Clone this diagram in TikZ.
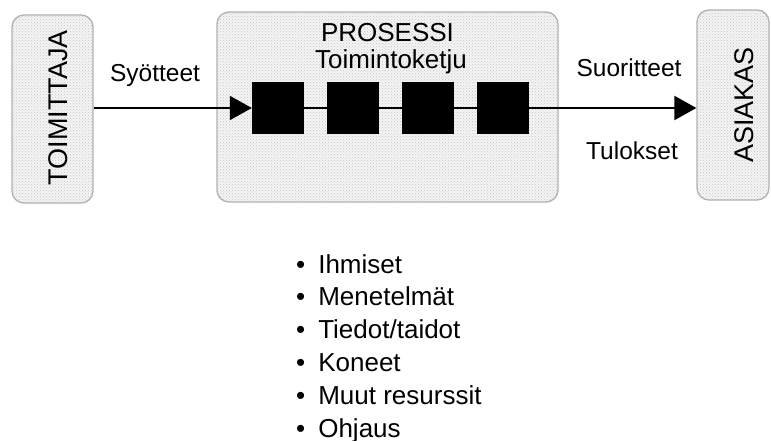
\documentclass[tikz,border=0pt]{standalone}
\usepackage{fontspec}
\setmainfont{Liberation Sans}
\usetikzlibrary{arrows.meta,patterns}
\begin{document}
\begin{tikzpicture}[x=1pt,y=-1pt,
  panel/.style={draw=gray!60, line width=1.3pt, rounded corners=12pt,
    preaction={fill=gray!9}, pattern=crosshatch dots, pattern color=gray!45,
    inner sep=0pt},
  blk/.style={fill=black, draw=none, minimum width=52pt, minimum height=52pt, inner sep=0pt},
  big/.style={font=\fontsize{26}{28}\selectfont, inner sep=0pt},
  side/.style={font=\fontsize{27}{29}\selectfont, inner sep=0pt, rotate=90, anchor=base},
  lbl/.style={font=\fontsize{24.5}{27}\selectfont, inner sep=0pt},
  flow/.style={line width=2pt, -{Triangle[length=22pt,width=24pt]}},
  seg/.style={line width=2pt}]
\useasboundingbox (0,0) rectangle (771,441);
\fill[white] (0,0) rectangle (771,441);
% panels
\node[panel, minimum width=81pt, minimum height=188pt] (sup) at (52.5,109) {};
\node[panel, minimum width=341pt, minimum height=190pt] (proc) at (387.5,107) {};
\node[panel, minimum width=72pt, minimum height=190pt] (cust) at (733,105) {};
% panel texts
\node[side] (suptxt) at (67,108) {TOIMITTAJA};
\node[side] (custtxt) at (753,105) {ASIAKAS};
\node[big, anchor=base] (proctitle) at (387.5,41.7) {PROSESSI};
\node[big, anchor=base] (procsub) at (391,68.3) {Toimintoketju};
% blocks
\node[blk] (b1) at (278,108) {};
\node[blk] (b2) at (353,108) {};
\node[blk] (b3) at (428,108) {};
\node[blk] (b4) at (503,108) {};
% connectors
\draw[flow] (sup.east |- b1.west) -- (b1.west);
\draw[seg] (b1.east) -- (b2.west);
\draw[seg] (b2.east) -- (b3.west);
\draw[seg] (b3.east) -- (b4.west);
\draw[flow] (b4.east) -- (b4.east -| cust.west);
% labels
\node[lbl, anchor=base] (in) at (155,82) {Syötteet};
\node[lbl, anchor=base] (out1) at (629,77) {Suoritteet};
\node[lbl, anchor=base] (out2) at (632,160) {Tulokset};
% resources list
\node[anchor=base west, inner sep=0pt, font=\fontsize{26}{32.8}\selectfont] (res) at (296,273)
{\begin{tabular}[t]{@{}l@{\hspace{13pt}}l@{}}
\textbullet & Ihmiset\\
\textbullet & Menetelmät\\
\textbullet & Tiedot/taidot\\
\textbullet & Koneet\\
\textbullet & Muut resurssit\\
\textbullet & Ohjaus
\end{tabular}};
\end{tikzpicture}
\end{document}
